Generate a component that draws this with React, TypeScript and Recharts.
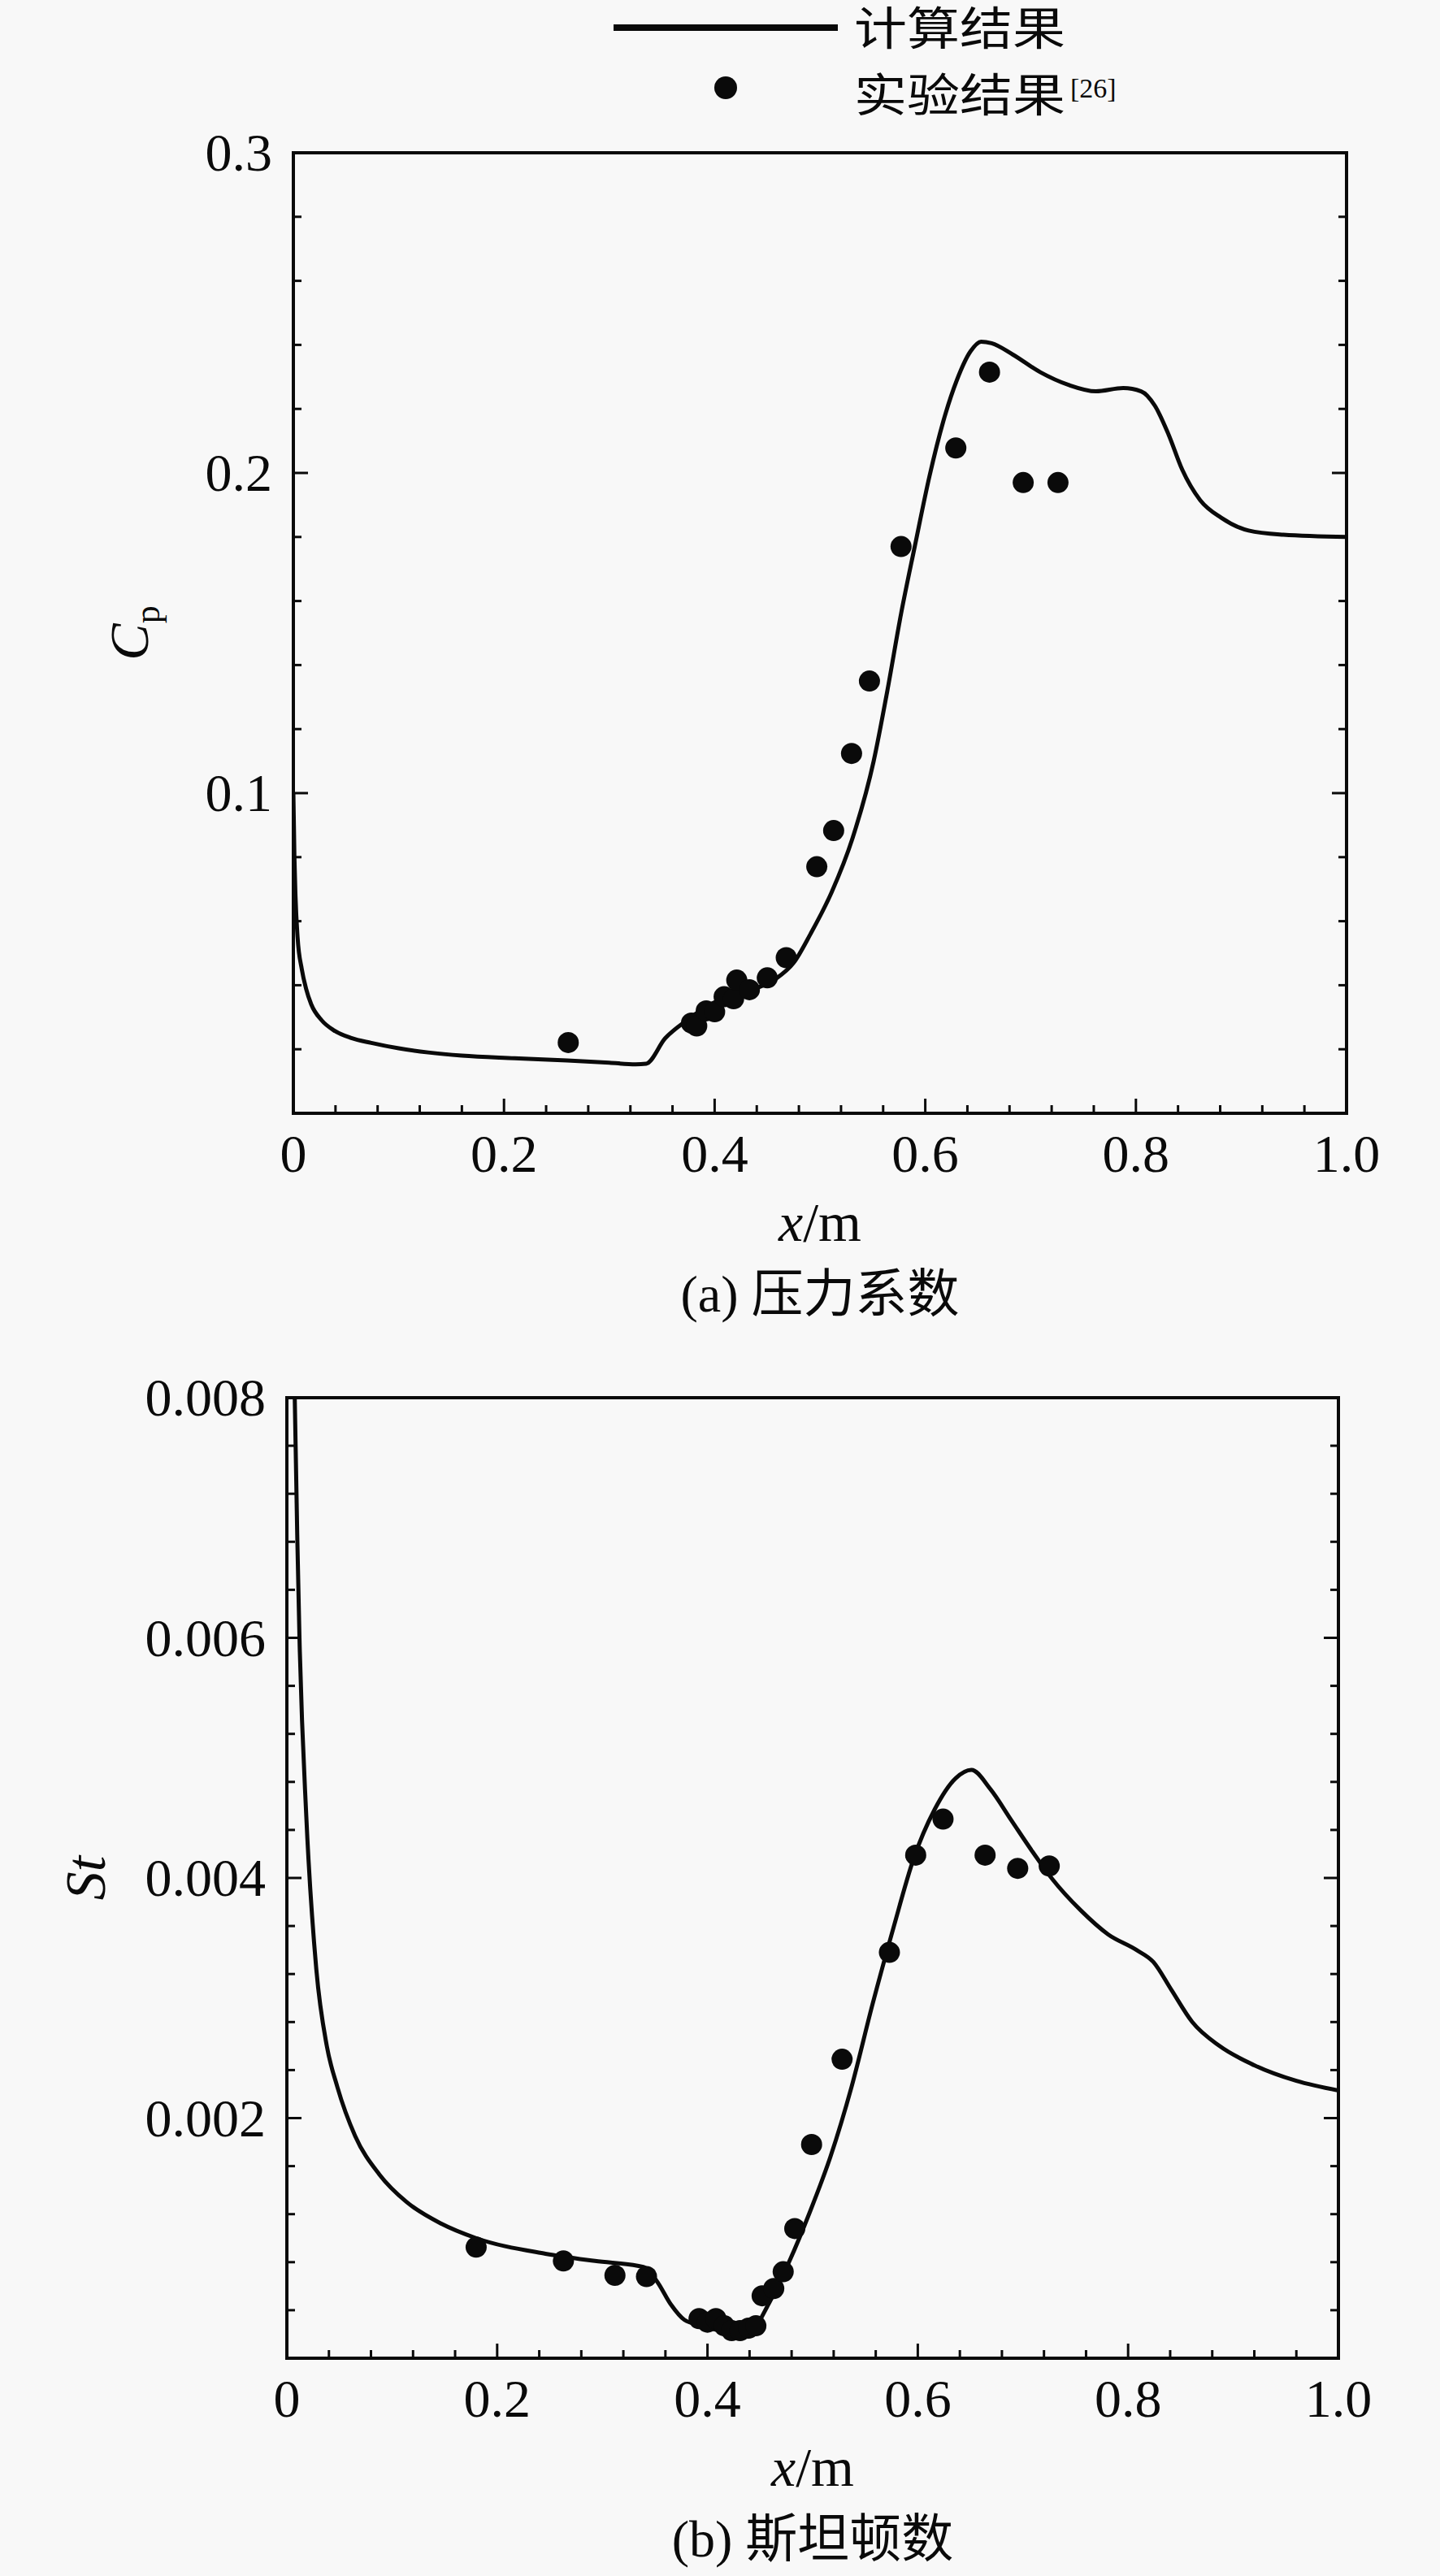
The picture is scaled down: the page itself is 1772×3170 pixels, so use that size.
import React from 'react';
import { ComposedChart, Line, Scatter, XAxis, YAxis, Legend } from 'recharts';

// ---------- data ----------
const cpLineX = [0, 0.001, 0.002, 0.004, 0.008, 0.012, 0.017, 0.027, 0.038, 0.055, 0.074, 0.1, 0.128, 0.16, 0.21, 0.26, 0.3, 0.325, 0.335, 0.353, 0.373, 0.392, 0.419, 0.439, 0.458, 0.475, 0.491, 0.511, 0.531, 0.551, 0.564, 0.577, 0.59, 0.604, 0.617, 0.63, 0.643, 0.653, 0.663, 0.683, 0.709, 0.736, 0.762, 0.788, 0.805, 0.818, 0.831, 0.844, 0.861, 0.881, 0.907, 0.94, 1.0];
const cpLineY = [0.1, 0.08, 0.068, 0.055, 0.045, 0.039, 0.034, 0.029, 0.026, 0.0235, 0.022, 0.0203, 0.019, 0.018, 0.0172, 0.0165, 0.0158, 0.0153, 0.0155, 0.0234, 0.0289, 0.0332, 0.0375, 0.039, 0.042, 0.047, 0.056, 0.069, 0.086, 0.11, 0.132, 0.156, 0.177, 0.199, 0.216, 0.229, 0.238, 0.241, 0.2405, 0.237, 0.2315, 0.2275, 0.2255, 0.2265, 0.2255, 0.221, 0.212, 0.201, 0.1915, 0.186, 0.182, 0.1807, 0.18];
const cpExpX = [0.261, 0.378, 0.383, 0.392, 0.4, 0.409, 0.418, 0.421, 0.433, 0.45, 0.468, 0.497, 0.513, 0.53, 0.547, 0.577, 0.629, 0.661, 0.693, 0.726];
const cpExpY = [0.0221, 0.0282, 0.0273, 0.032, 0.0317, 0.0364, 0.0358, 0.0416, 0.0386, 0.0423, 0.0486, 0.077, 0.0883, 0.1124, 0.135, 0.177, 0.2078, 0.2315, 0.197, 0.197];

const stLineX = [0.004, 0.0075, 0.01, 0.012, 0.0185, 0.028, 0.038, 0.048, 0.065, 0.088, 0.114, 0.147, 0.18, 0.246, 0.293, 0.339, 0.352, 0.365, 0.378, 0.395, 0.411, 0.428, 0.445, 0.458, 0.478, 0.497, 0.517, 0.537, 0.557, 0.577, 0.596, 0.616, 0.636, 0.651, 0.669, 0.689, 0.709, 0.728, 0.755, 0.781, 0.808, 0.824, 0.841, 0.861, 0.887, 0.92, 0.96, 1.0];
const stLineY = [0.0105, 0.008, 0.0068, 0.006, 0.00451, 0.00324, 0.0026, 0.00226, 0.00185, 0.00153, 0.0013, 0.00112, 0.001, 0.00087, 0.00081, 0.00076, 0.00064, 0.00045, 0.00032, 0.00027, 0.00023, 0.0002, 0.00026, 0.00045, 0.00081, 0.00121, 0.00168, 0.00226, 0.00295, 0.00359, 0.00416, 0.00457, 0.00483, 0.0049, 0.00474, 0.00448, 0.00422, 0.00399, 0.00373, 0.00353, 0.0034, 0.0033, 0.00307, 0.0028, 0.0026, 0.00244, 0.00231, 0.00223];
const stExpX = [0.18, 0.263, 0.312, 0.342, 0.392, 0.4, 0.408, 0.416, 0.423, 0.431, 0.439, 0.446, 0.452, 0.463, 0.472, 0.483, 0.499, 0.528, 0.573, 0.598, 0.624, 0.664, 0.695, 0.725];
const stExpY = [0.000925, 0.00081, 0.00069, 0.00068, 0.00033, 0.0003, 0.00033, 0.00027, 0.00023, 0.00023, 0.00025, 0.00027, 0.00052, 0.00058, 0.00072, 0.00108, 0.00178, 0.00249, 0.00338, 0.00419, 0.00449, 0.00419, 0.00408, 0.0041];

const xTickValues = [0, 0.04, 0.08, 0.12, 0.16, 0.2, 0.24, 0.28, 0.32, 0.36, 0.4, 0.44, 0.48, 0.52, 0.56, 0.6, 0.64, 0.68, 0.72, 0.76, 0.8, 0.84, 0.88, 0.92, 0.96, 1.0];
const xMajorValues = [0, 0.2, 0.4, 0.6, 0.8, 1.0];
const xMajorLabels = ['0', '0.2', '0.4', '0.6', '0.8', '1.0'];

const cpTickValues = [0.02, 0.04, 0.06, 0.08, 0.1, 0.12, 0.14, 0.16, 0.18, 0.2, 0.22, 0.24, 0.26, 0.28, 0.3];
const cpMajorValues = [0.1, 0.2, 0.3];
const cpMajorLabels = ['0.1', '0.2', '0.3'];

const stTickValues = [0.0004, 0.0008, 0.0012, 0.0016, 0.002, 0.0024, 0.0028, 0.0032, 0.0036, 0.004, 0.0044, 0.0048, 0.0052, 0.0056, 0.006, 0.0064, 0.0068, 0.0072, 0.0076, 0.008];
const stMajorValues = [0.002, 0.004, 0.006, 0.008];
const stMajorLabels = ['0.002', '0.004', '0.006', '0.008'];

const legendNames = ['计算结果', '实验结果'];
const legendRef = '[26]';
const captionA = ['(a) ', '压力系数'];
const captionB = ['(b) ', '斯坦顿数'];

// ---------- derived tables ----------
const zip = (xs: number[], ys: number[]) => xs.map((x, i) => ({ x, y: ys[i] }));
const cpLine = zip(cpLineX, cpLineY);
const cpExp = zip(cpExpX, cpExpY);
const stLine = zip(stLineX, stLineY);
const stExp = zip(stExpX, stExpY);

// ---------- styling ----------
const SERIF = "'Liberation Serif', 'Times New Roman', serif";
const CJK = "'Noto Sans CJK SC', 'Noto Sans', sans-serif";
const INK = '#0a0a0a';
const BG = '#f8f8f8';
const FRAME = { stroke: INK, strokeWidth: 4, strokeLinecap: 'square' as const };

const findMajor = (majors: number[], v: number) => majors.findIndex((m) => Math.abs(m - v) < 1e-9);

const makeXTick = (majors: number[], labels: string[]) => (props: any) => {
  const { x, y, payload } = props;
  const idx = findMajor(majors, payload.value);
  const major = idx >= 0;
  return (
    <g>
      <line x1={x} x2={x} y1={y} y2={y - (major ? 18 : 10)} stroke={INK} strokeWidth={3} />
      {major && (
        <text x={x} y={y + 72} textAnchor="middle" fontFamily={SERIF} fontSize={66} fill={INK}>
          {labels[idx]}
        </text>
      )}
    </g>
  );
};

const makeYTick = (majors: number[], labels: string[], side: 'left' | 'right') => (props: any) => {
  const { x, y, payload } = props;
  const idx = findMajor(majors, payload.value);
  const major = idx >= 0;
  const dir = side === 'left' ? 1 : -1;
  return (
    <g>
      <line x1={x} x2={x + dir * (major ? 18 : 10)} y1={y} y2={y} stroke={INK} strokeWidth={3} />
      {major && side === 'left' && (
        <text x={x - 26} y={y} dy="0.34em" textAnchor="end" fontFamily={SERIF} fontSize={66} fill={INK}>
          {labels[idx]}
        </text>
      )}
    </g>
  );
};

const makeXTitle = (caption: string[]) => (lp: any) => {
  const vb = lp.viewBox || {};
  const cx = vb.x + vb.width / 2;
  const by = vb.y;
  return (
    <g>
      <text x={cx} y={by + 157} textAnchor="middle" fontFamily={SERIF} fontSize={68} fill={INK}>
        <tspan fontStyle="italic">x</tspan>
        <tspan>/m</tspan>
      </text>
      <text x={cx} y={by + 244} textAnchor="middle" fontSize={64} fill={INK}>
        <tspan fontFamily={SERIF}>{caption[0]}</tspan>
        <tspan fontFamily={CJK}>{caption[1]}</tspan>
      </text>
    </g>
  );
};

const makeYTitle = (kind: 'cp' | 'st', gap: number) => (lp: any) => {
  const vb = lp.viewBox || {};
  const plotLeft = vb.x + vb.width;
  const bx = plotLeft - gap;
  const cy = vb.y + vb.height / 2;
  return (
    <text transform={`translate(${bx},${cy}) rotate(-90)`} textAnchor="middle" fontFamily={SERIF} fill={INK}>
      {kind === 'cp' ? (
        <>
          <tspan fontStyle="italic" fontSize={68}>C</tspan>
          <tspan fontSize={44} dy={14}>p</tspan>
        </>
      ) : (
        <tspan fontStyle="italic" fontSize={70}>St</tspan>
      )}
    </text>
  );
};

const legendText: React.CSSProperties = {
  position: 'absolute',
  left: 1051,
  fontFamily: CJK,
  fontSize: 56,
  lineHeight: '62px',
  height: 62,
  whiteSpace: 'nowrap',
  color: INK,
  transform: 'scaleX(1.16)',
  transformOrigin: 'left center',
};

const LegendBox = () => (
  <div style={{ position: 'relative', width: 1772, height: 160 }}>
    <svg width={1772} height={160} style={{ position: 'absolute', left: 0, top: 0 }}>
      <line x1={755} x2={1031} y1={34} y2={34} stroke={INK} strokeWidth={8} />
      <circle cx={893} cy={108} r={14} fill={INK} />
    </svg>
    <div style={{ ...legendText, top: 0 }}>{legendNames[0]}</div>
    <div style={{ ...legendText, top: 82 }}>{legendNames[1]}</div>
    <div
      style={{
        position: 'absolute',
        left: 1317,
        top: 92,
        fontFamily: SERIF,
        fontSize: 34,
        lineHeight: '34px',
        whiteSpace: 'nowrap',
        color: INK,
      }}
    >
      {legendRef}
    </div>
  </div>
);

const Dot = (props: any) => <circle cx={props.cx} cy={props.cy} r={13} fill={INK} />;

interface PanelProps {
  line: { x: number; y: number }[];
  exp: { x: number; y: number }[];
  yDomain: [number, number];
  yTicks: number[];
  yMajors: number[];
  yLabels: string[];
  height: number;
  margin: { top: number; right: number; bottom: number; left: number };
  caption: string[];
  kind: 'cp' | 'st';
  titleGap: number;
  withLegend: boolean;
}

const Panel = (p: PanelProps) => (
  <ComposedChart width={1772} height={p.height} data={p.line} margin={p.margin}>
    {p.withLegend && (
      <Legend
        layout="horizontal"
        verticalAlign="middle"
        align="center"
        content={() => <LegendBox />}
        wrapperStyle={{ position: 'absolute', top: 0, left: 0, width: 1772, height: 160 }}
      />
    )}
    <XAxis
      dataKey="x"
      type="number"
      domain={[0, 1]}
      allowDataOverflow
      ticks={xTickValues}
      interval={0}
      height={100}
      tickSize={0}
      tickMargin={0}
      tickLine={false}
      axisLine={FRAME}
      tick={makeXTick(xMajorValues, xMajorLabels)}
      label={{ content: makeXTitle(p.caption) }}
    />
    <XAxis xAxisId="t" orientation="top" type="number" domain={[0, 1]} height={1} tick={false} tickLine={false} axisLine={FRAME} />
    <YAxis
      dataKey="y"
      type="number"
      domain={p.yDomain}
      allowDataOverflow
      ticks={p.yTicks}
      interval={0}
      width={80}
      tickSize={0}
      tickMargin={0}
      tickLine={false}
      axisLine={FRAME}
      tick={makeYTick(p.yMajors, p.yLabels, 'left')}
      label={{ content: makeYTitle(p.kind, p.titleGap) }}
    />
    <YAxis
      yAxisId="r"
      orientation="right"
      type="number"
      domain={p.yDomain}
      allowDataOverflow
      ticks={p.yTicks}
      interval={0}
      width={1}
      tickSize={0}
      tickMargin={0}
      tickLine={false}
      axisLine={FRAME}
      tick={makeYTick(p.yMajors, p.yLabels, 'right')}
    />
    <Line dataKey="y" type="monotone" stroke={INK} strokeWidth={5} dot={false} activeDot={false} isAnimationActive={false} />
    <Scatter data={p.exp} dataKey="y" fill={INK} shape={Dot} isAnimationActive={false} />
  </ComposedChart>
);

export default function App() {
  return (
    <div style={{ position: 'absolute', left: 0, top: 0, width: 1772, height: 3170, background: BG, overflow: 'hidden' }}>
      <div style={{ position: 'absolute', left: 0, top: 0 }}>
        <Panel
          line={cpLine}
          exp={cpExp}
          yDomain={[0, 0.3]}
          yTicks={cpTickValues}
          yMajors={cpMajorValues}
          yLabels={cpMajorLabels}
          height={1680}
          margin={{ top: 187, right: 114, bottom: 210, left: 281 }}
          caption={captionA}
          kind="cp"
          titleGap={179}
          withLegend
        />
      </div>
      <div style={{ position: 'absolute', left: 0, top: 1600 }}>
        <Panel
          line={stLine}
          exp={stExp}
          yDomain={[0, 0.008]}
          yTicks={stTickValues}
          yMajors={stMajorValues}
          yLabels={stMajorLabels}
          height={1570}
          margin={{ top: 119, right: 124, bottom: 168, left: 273 }}
          caption={captionB}
          kind="st"
          titleGap={224}
          withLegend={false}
        />
      </div>
    </div>
  );
}
